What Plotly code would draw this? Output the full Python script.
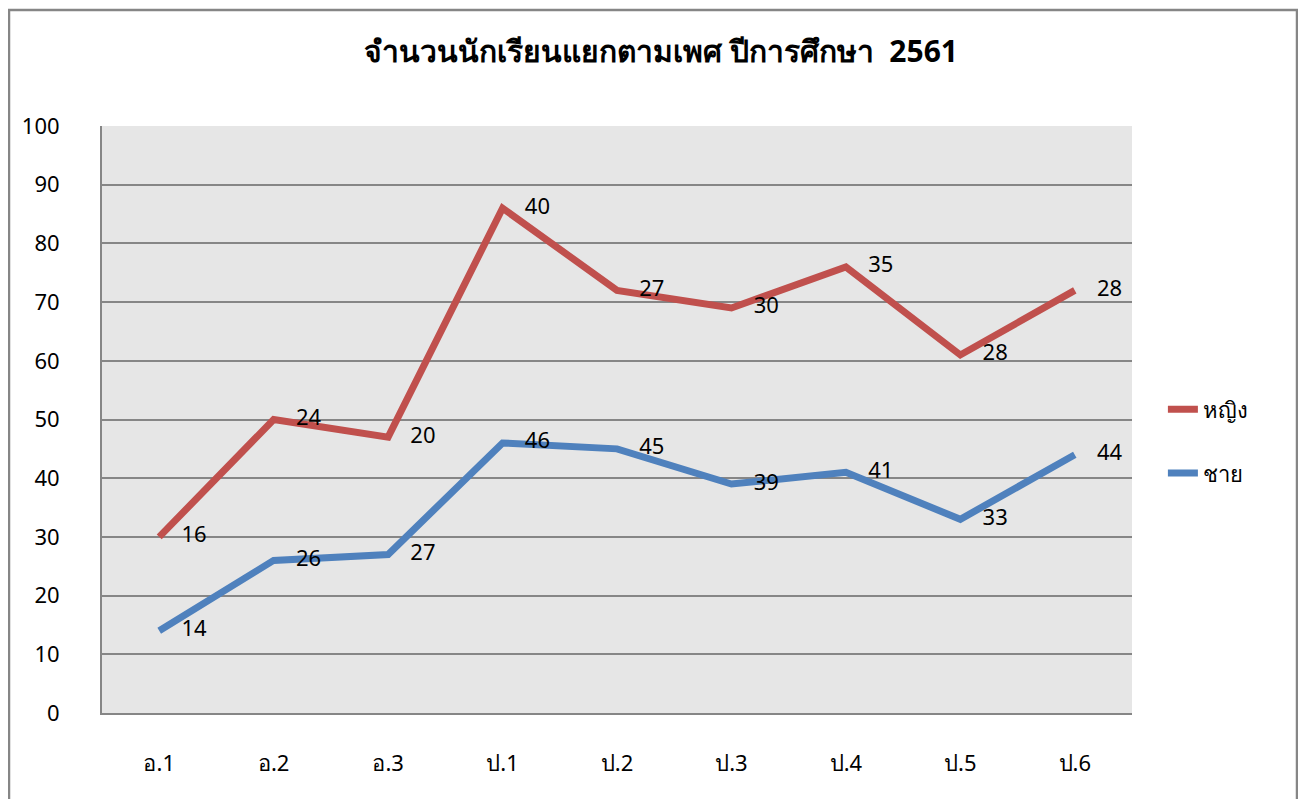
import plotly.graph_objects as go

categories = ["อ.1", "อ.2", "อ.3", "ป.1", "ป.2", "ป.3", "ป.4", "ป.5", "ป.6"]
male = [14, 26, 27, 46, 45, 39, 41, 33, 44]
female = [16, 24, 20, 40, 27, 30, 35, 28, 28]
title_text = "จำนวนนักเรียนแยกตามเพศ ปีการศึกษา  2561"
y_ticks = [0, 10, 20, 30, 40, 50, 60, 70, 80, 90, 100]

FONT = "Tahoma, Noto Sans, DejaVu Sans, sans-serif"

fig = go.Figure()
fig.add_trace(go.Scatter(
    x=categories, y=male, name="ชาย", stackgroup="s", fill="none",
    mode="lines+markers+text", text=[str(v) for v in male], textposition="middle right",
    line=dict(color="#4f81bd", width=7), legendgroup="m", legendrank=2,
    marker=dict(size=34, color="rgba(0,0,0,0)"),
    textfont=dict(size=22, color="#000000", family=FONT),
))
fig.add_trace(go.Scatter(
    x=categories, y=female, name="หญิง", stackgroup="s", fill="none",
    mode="lines+markers+text", text=[str(v) for v in female], textposition="middle right",
    line=dict(color="#c0504d", width=7), legendgroup="f", legendrank=1,
    marker=dict(size=34, color="rgba(0,0,0,0)"),
    textfont=dict(size=22, color="#000000", family=FONT),
))

fig.update_layout(
    width=1306, height=799,
    margin=dict(l=94, r=182, t=118, b=94),
    paper_bgcolor="white", plot_bgcolor="#e6e6e6",
    font=dict(family=FONT, size=22, color="#000000"),
    title=dict(text="<b>" + title_text + "</b>", x=0.5, xref="container", xanchor="center",
               y=0.945, yref="container", yanchor="middle",
               font=dict(size=30, family=FONT, color="#000000")),
    showlegend=True,
    legend=dict(x=1.03, y=0.4625, xanchor="left", yanchor="middle",
                traceorder="grouped", tracegroupgap=32,
                bgcolor="rgba(0,0,0,0)", font=dict(size=22, family=FONT)),
    xaxis=dict(type="category", range=[-0.5, 8.5], showgrid=False,
               showline=True, linecolor="#868686", linewidth=2,
               ticks="", ticklabelstandoff=30, fixedrange=True),
    yaxis=dict(range=[0, 100], tickvals=y_ticks, showgrid=True,
               gridcolor="#868686", gridwidth=1.5, zeroline=False,
               showline=True, linecolor="#868686", linewidth=2,
               ticks="", ticklabelstandoff=36, fixedrange=True),
)

fig.add_shape(type="rect", xref="paper", yref="paper",
              x0=(8 - 101) / 1030, x1=(1296 - 101) / 1030,
              y0=(713 - 810) / 587, y1=(713 - 10) / 587,
              line=dict(color="#868686", width=2.5), fillcolor="rgba(0,0,0,0)",
              layer="below")

fig.write_html("out.html")
